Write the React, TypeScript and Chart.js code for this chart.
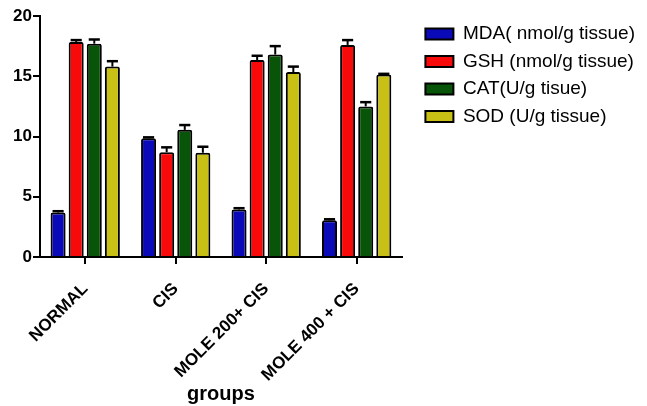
import { useEffect, useRef } from 'react';
import { Chart, registerables } from 'chart.js';

Chart.register(...registerables);

const FONT = "'Liberation Sans', Arial, Helvetica, sans-serif";

const categories = ['NORMAL', 'CIS', 'MOLE 200+ CIS', 'MOLE 400 + CIS'];
const seriesNames = ['MDA( nmol/g tissue)', 'GSH (nmol/g tissue)', 'CAT(U/g tisue)', 'SOD (U/g tissue)'];
const mda = [3.7, 9.85, 3.95, 3.05];
const mdaErr = [0.1, 0.08, 0.1, 0.08];
const gsh = [17.85, 8.7, 16.35, 17.6];
const gshErr = [0.15, 0.4, 0.35, 0.4];
const cat = [17.7, 10.55, 16.8, 12.5];
const catErr = [0.35, 0.4, 0.7, 0.35];
const sod = [15.8, 8.65, 15.35, 15.15];
const sodErr = [0.45, 0.5, 0.45, 0.05];
const colors = ['#0a0ab8', '#f80a0a', '#085408', '#c8c014'];

const errorBars = {
  id: 'errorBars',
  afterDatasetsDraw(chart: any) {
    const ctx = chart.ctx;
    const yScale = chart.scales.y;
    chart.data.datasets.forEach((ds: any, i: number) => {
      const meta = chart.getDatasetMeta(i);
      meta.data.forEach((el: any, j: number) => {
        const v = ds.data[j];
        const e = ds.errors[j];
        const top = yScale.getPixelForValue(v + e);
        const half = el.width * 0.37;
        ctx.save();
        ctx.strokeStyle = '#000';
        ctx.lineWidth = 2;
        ctx.beginPath();
        ctx.moveTo(el.x, el.y);
        ctx.lineTo(el.x, top);
        ctx.stroke();
        ctx.lineWidth = 2.5;
        ctx.beginPath();
        ctx.moveTo(el.x - half, top);
        ctx.lineTo(el.x + half, top);
        ctx.stroke();
        ctx.restore();
      });
    });
  },
};

export default function App() {
  const ref = useRef<HTMLCanvasElement>(null);
  useEffect(() => {
    document.body.style.margin = '0';
    const values = [mda, gsh, cat, sod];
    const errs = [mdaErr, gshErr, catErr, sodErr];
    const chart = new Chart(ref.current as HTMLCanvasElement, {
      type: 'bar',
      data: {
        labels: categories,
        datasets: seriesNames.map((name, i) => ({
          label: name,
          data: values[i],
          errors: errs[i],
          backgroundColor: colors[i],
          borderColor: '#000',
          borderWidth: 2,
          borderRadius: 2,
          borderSkipped: 'bottom',
          categoryPercentage: 0.8,
          barPercentage: 0.83,
        })) as any,
      },
      options: {
        animation: false,
        responsive: false,
        maintainAspectRatio: false,
        layout: { padding: { top: 16, right: 2, bottom: 0, left: 0 } },
        plugins: {
          tooltip: { enabled: false },
          legend: {
            position: 'right',
            align: 'start',
            maxWidth: 320,
            labels: {
              font: { family: FONT, size: 19 },
              color: '#000',
              boxWidth: 28,
              boxHeight: 11,
              padding: 8.5,
            },
          },
        },
        scales: {
          x: {
            grid: { display: true, drawOnChartArea: false, drawTicks: true, tickLength: 7, color: '#000', lineWidth: 2, offset: false },
            border: { color: '#000', width: 2 },
            ticks: {
              color: '#000',
              font: { family: FONT, size: 17, weight: 'bold' },
              maxRotation: 45,
              minRotation: 45,
              padding: 15,
            },
            title: {
              display: true,
              text: 'groups',
              color: '#000',
              font: { family: FONT, size: 20, weight: 'bold' },
              padding: { top: 0, bottom: 0 },
            },
            afterFit: (s: any) => { s.height = 149; },
          },
          y: {
            min: 0,
            max: 20,
            grid: { display: true, drawOnChartArea: false, drawTicks: true, tickLength: 7, color: '#000', lineWidth: 2 },
            border: { color: '#000', width: 2 },
            ticks: {
              stepSize: 5,
              color: '#000',
              font: { family: FONT, size: 17, weight: 'bold' },
              padding: 1,
            },
            afterFit: (s: any) => { s.width = 40; },
          },
          yr: {
            type: 'linear',
            position: 'right',
            display: true,
            grid: { display: false },
            border: { display: false },
            ticks: { display: false },
            afterFit: (s: any) => { s.width = 15; },
          },
        },
      } as any,
      plugins: [errorBars],
    });
    return () => chart.destroy();
  }, []);
  return (
    <div style={{ width: 647, height: 406 }}>
      <canvas ref={ref} width={647} height={406} style={{ display: 'block' }} />
    </div>
  );
}
